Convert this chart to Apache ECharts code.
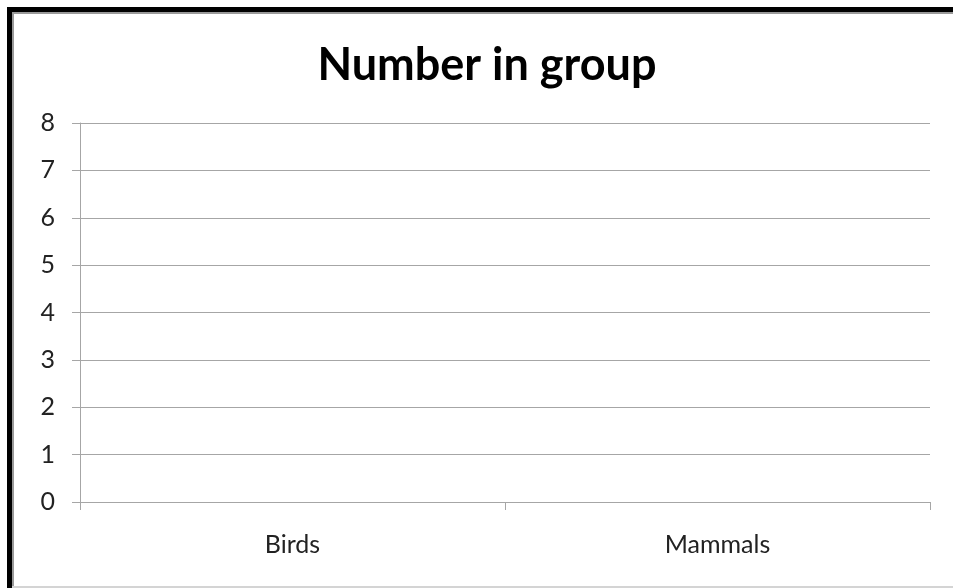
<!DOCTYPE html>
<html>
<head>
<meta charset="utf-8">
<script src="https://cdn.jsdelivr.net/npm/echarts@6/dist/echarts.min.js"></script>
<style>
  html, body { margin: 0; padding: 0; background: #fff; }
  #chart { width: 953px; height: 588px; }
</style>
</head>
<body>
<div id="chart"></div>
<script>
// Chart content
const chartTitle = 'Number in group';
const categories = ['Birds', 'Mammals'];
const groupCounts = [null, null];   // no counts entered yet
const yTicks = { min: 0, max: 8, step: 1 };

const chart = echarts.init(document.getElementById('chart'), null, { renderer: 'canvas' });
const axisGray = '#a6a6a6';
const textFont = 'Lato, "Open Sans", sans-serif';

chart.setOption({
  animation: false,
  backgroundColor: '#ffffff',
  title: {
    text: chartTitle,
    left: 482,
    top: 38,
    textAlign: 'center',
    textStyle: { fontFamily: textFont, fontWeight: 'bold', fontSize: 45, color: '#000' }
  },
  grid: { left: 80, right: 23, top: 123, bottom: 86, containLabel: false },
  xAxis: {
    type: 'category',
    data: categories,
    boundaryGap: true,
    axisLine: { lineStyle: { color: axisGray, width: 1 } },
    axisTick: { show: true, alignWithLabel: false, length: 8, lineStyle: { color: axisGray } },
    axisLabel: { fontFamily: textFont, fontSize: 25, color: '#222', margin: 30 },
    splitLine: { show: false }
  },
  yAxis: {
    type: 'value',
    min: yTicks.min,
    max: yTicks.max,
    interval: yTicks.step,
    axisLine: { show: true, lineStyle: { color: axisGray, width: 1 } },
    axisTick: { show: true, length: 8, lineStyle: { color: axisGray } },
    axisLabel: { fontFamily: textFont, fontSize: 25, color: '#222', margin: 25 },
    splitLine: { show: true, lineStyle: { color: axisGray, width: 1 } }
  },
  series: [{
    name: chartTitle,
    type: 'bar',
    data: groupCounts,
    itemStyle: { color: '#4f81bd' }
  }],
  graphic: [
    // frame around the chart area
    { type: 'rect', shape: { x: 7, y: 7, width: 953, height: 5 }, style: { fill: '#000' }, silent: true },
    { type: 'rect', shape: { x: 12, y: 12, width: 941, height: 2 }, style: { fill: '#9a9a9a' }, silent: true },
    { type: 'rect', shape: { x: 7, y: 7, width: 5, height: 581 }, style: { fill: '#000' }, silent: true },
    { type: 'rect', shape: { x: 12, y: 12, width: 2, height: 576 }, style: { fill: '#9a9a9a' }, silent: true },
    { type: 'rect', shape: { x: 12, y: 586, width: 941, height: 2 }, style: { fill: '#d4d4d4' }, silent: true }
  ]
});
</script>
</body>
</html>
